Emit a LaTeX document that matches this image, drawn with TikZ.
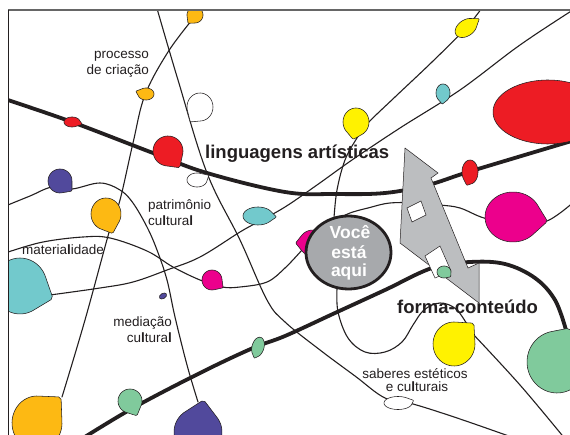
\documentclass[tikz,border=0pt]{standalone}
\usepackage{fontspec}
\setmainfont{Liberation Sans}
\usetikzlibrary{shapes.geometric}
\definecolor{cgold}{HTML}{FDB913}
\definecolor{cyel}{HTML}{FFF200}
\definecolor{ccyan}{HTML}{72C9CC}
\definecolor{cmag}{HTML}{EC008C}
\definecolor{cgreen}{HTML}{80CA9C}
\definecolor{cblue}{HTML}{51499C}
\definecolor{cred}{HTML}{ED1C24}
\definecolor{cink}{HTML}{231F20}
\definecolor{cgrayel}{HTML}{A7A9AC}
\definecolor{carrow}{HTML}{BCBEC0}
\tikzset{
  thinln/.style={line width=1.1pt, draw=cink, line cap=round},
  thickln/.style={line width=3.8pt, draw=cink},
  balloonst/.style={line width=0.55pt, draw=cink, line join=round},
  lbl/.style={font=\fontsize{13.5}{15}\selectfont, text=cink, inner sep=0pt},
  bigl/.style={font=\fontsize{18.5}{20}\selectfont\bfseries, text=cink, inner sep=0pt},
  here/.style={font=\fontsize{17.5}{19}\selectfont\bfseries, text=white, inner sep=0pt},
}
\newcommand\drawballoon[8]{%
  \pgfmathsetmacro\blnphi{acos(1/#7)}%
  \pgfmathsetmacro\blnstart{#6+\blnphi}%
  \pgfmathsetmacro\blnend{#6+360-\blnphi}%
  \filldraw[balloonst,fill=#8,shift={(#1,#2)},rotate=#5,xscale=#3,yscale=#4]
    plot[smooth,domain=\blnstart:\blnend,samples=40] ({cos(\x)},{sin(\x)})
    -- ({#7*cos(#6-3)},{#7*sin(#6-3)}) -- ({#7*cos(#6+3)},{#7*sin(#6+3)}) -- cycle;%
}
\begin{document}
\begin{tikzpicture}[x=1pt,y=-1pt]
\useasboundingbox (0,0) rectangle (570,435);
\fill[white] (0,0) rectangle (570,435);
\begin{scope}
\clip (8,10) rectangle (570,435);
% thick curves
\draw[thickln] plot[smooth,tension=0.6] coordinates {(0,97) (8,100) (72,122) (153,153) (207,173) (285,192) (335,194) (385,193) (428,185) (465,173) (518,157) (575,140)};
\draw[thickln] plot[smooth,tension=0.6] coordinates {(80,440) (133,408) (200,373) (253,348) (285,336) (335,313) (385,290) (432,268) (470,262) (505,264) (535,278) (555,300) (566,330)};
% thin curves
\draw[thinln] plot[smooth,tension=0.6] coordinates {(156,5) (178,80) (207,173) (240,240) (267,300) (285,322) (320,350) (355,376) (385,398) (413,404) (460,419) (520,440)};
\draw[thinln] plot[smooth,tension=0.6] coordinates {(192,20) (168,52) (145,95) (133,143) (120,200) (110,229) (85,320) (62,397)};
\draw[thinln] plot[smooth,tension=0.6] coordinates {(484,5) (466,28) (432,62) (395,97) (368,123) (357,138) (345,160) (337,190) (334,218)};
\draw[thinln] plot[smooth,tension=0.6] coordinates {(337,289) (338,312) (348,338) (365,352) (385,352) (402,342) (413,325) (424,310) (440,303) (456,309) (468,326)};
\draw[thinln] plot[smooth,tension=0.6] coordinates {(472,333) (520,385) (566,440)};
\draw[thinln] plot[smooth,tension=0.6] coordinates {(576,8) (520,45) (460,90) (400,128) (352,160) (317,185) (285,207) (258,222) (240,232) (200,257) (167,270) (133,282) (100,288) (50,295)};
\draw[thinln] plot[smooth,tension=0.6] coordinates {(576,200) (547,221) (515,224) (484,218) (460,208) (440,205) (418,203) (390,203) (368,208) (350,213) (336,220)};
\draw[thinln] plot[smooth,tension=0.6] coordinates {(0,255) (8,252) (43,242) (83,237) (110,238) (147,251) (173,267) (200,280) (222,287) (240,287) (267,282) (285,268) (302,250)};
\draw[thinln] plot[smooth,tension=0.6] coordinates {(0,209) (8,205) (30,196) (52,187) (72,189) (100,183) (120,190) (133,203) (147,227) (157,250) (167,280) (175,317) (187,365) (198,402)};
% balloons
\drawballoon{195}{15}{8}{8}{0}{130}{1.3}{cgold}
\drawballoon{146}{94}{8}{6}{0}{200}{1.3}{cgold}
\drawballoon{106}{214}{15}{16}{0}{70}{1.25}{cgold}
\drawballoon{37}{423}{25}{27}{0}{-45}{1.3}{cgold}
\drawballoon{72}{122}{8}{5}{0}{20}{1.3}{cred}
\drawballoon{168}{151}{15}{15}{0}{55}{1.3}{cred}
\drawballoon{470}{172}{8}{12}{0}{110}{1.15}{cred}
\drawballoon{548}{112}{55}{32}{0}{15}{1.15}{cred}
\drawballoon{200}{107}{13}{14}{0}{125}{1.25}{white}
\drawballoon{197}{180}{10}{7}{0}{-30}{1.3}{white}
\drawballoon{398}{403}{14}{6.5}{0}{-20}{1.15}{white}
\drawballoon{356}{122}{13}{14}{0}{100}{1.22}{cyel}
\drawballoon{466}{28}{12}{8}{35}{0}{1.3}{cyel}
\drawballoon{454}{344}{21}{22}{0}{-45}{1.28}{cyel}
\drawballoon{443}{93}{7}{9}{0}{95}{1.2}{ccyan}
\drawballoon{258}{216}{15}{9}{0}{5}{1.2}{ccyan}
\drawballoon{20}{286}{27}{28}{0}{20}{1.25}{ccyan}
\drawballoon{513}{217}{28}{25}{0}{8}{1.2}{cmag}
\drawballoon{212}{280}{10}{10}{0}{35}{1.3}{cmag}
\drawballoon{313}{243}{14}{13}{0}{180}{1.2}{cmag}
\drawballoon{60}{181}{12}{12}{0}{40}{1.25}{cblue}
\drawballoon{198}{432}{24}{24}{0}{-80}{1.3}{cblue}
\filldraw[balloonst,fill=cblue,rotate around={30:(163,296)}] (163,296) ellipse[x radius=4, y radius=2.6];
\drawballoon{258}{347}{6}{10}{-15}{95}{1.15}{cgreen}
\drawballoon{130}{401}{12}{12}{0}{65}{1.3}{cgreen}
\drawballoon{557}{362}{30}{31}{0}{-70}{1.13}{cgreen}
% double arrow
\filldraw[fill=carrow,draw=cink,line width=0.5pt,line join=miter] (405,148) -- (438,173) -- (431,178) -- (468,268) -- (479,263) -- (479,303) -- (400,243) -- cycle;
\filldraw[fill=white,draw=cink,line width=0.5pt] (407,208) -- (421,201) -- (426,215) -- (412,222) -- cycle;
\filldraw[fill=white,draw=cink,line width=0.5pt] (425,256) -- (440,246) -- (451,271) -- (435,278) -- cycle;
\drawballoon{444}{272}{7}{6}{0}{40}{1.2}{cgreen}
% you are here
\node[ellipse,draw=cink,fill=cgrayel,line width=2.8pt,minimum width=85pt,minimum height=73pt,inner sep=0pt] (voce) at (348.5,252.5) {};
\end{scope}
% frame
\draw[line width=1.4pt, draw=black!60] (8,10) -- (570,10);
\draw[line width=1pt, draw=cink] (8,10) -- (8,435);
% texts
\node[here,anchor=base] (v1) at (350,238.5) {Você};
\node[here,anchor=base] (v2) at (349,258.5) {está};
\node[here,anchor=base] (v3) at (349,277) {aqui};
\node[bigl,anchor=base west] (ling) at (205,159) {linguagens artísticas};
\node[bigl,anchor=base west] (forma) at (397,314) {forma-conteúdo};
\node[lbl,anchor=base east] (pc1) at (149,59) {processo};
\node[lbl,anchor=base east] (pc2) at (149,75) {de criação};
\node[lbl,anchor=base west] (pt1) at (148,210) {patrimônio};
\node[lbl,anchor=base west] (pt2) at (148,225.5) {cu\textbf{l}tura\textbf{l}};
\node[lbl,anchor=base west] (mat) at (22,255) {materia\textbf{l}idade};
\node[lbl,anchor=base east] (md1) at (172,327) {mediação};
\node[lbl,anchor=base east] (md2) at (172,342) {cu\textbf{l}tura\textbf{l}};
\node[lbl,anchor=base] (sb1) at (415,378) {saberes estéticos};
\node[lbl,anchor=base] (sb2) at (417,391) {e cu\textbf{l}turais};
\end{tikzpicture}
\end{document}
